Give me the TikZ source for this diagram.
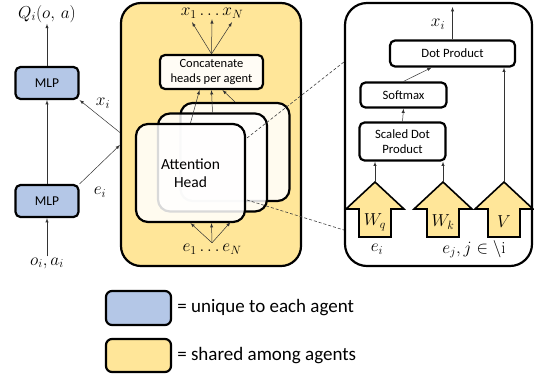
\documentclass[tikz,border=0pt]{standalone}
\usepackage{fontspec}
\setmainfont{Carlito}
\usepackage{amsmath}
\usepackage{xcolor}
\usetikzlibrary{calc,positioning}
\definecolor{uniqueblue}{RGB}{180,199,231}
\definecolor{sharedyellow}{RGB}{255,230,153}

\begin{document}
\begin{tikzpicture}[x=1pt, y=-1pt, >=latex,
        box/.style={rectangle, draw, line width=2.2pt, rounded corners=5pt,
        inner sep=0pt, align=center, font=\fontsize{12.7}{14.5}\selectfont},
        mlp/.style={box, fill=uniqueblue, minimum width=63pt, minimum height=32pt,
        font=\fontsize{13.5}{15}\selectfont},
        head/.style={box, fill=white, fill opacity=0.85, text opacity=1,
        rounded corners=12pt, minimum width=109pt, minimum height=98pt,
        font=\fontsize{15.5}{17.5}\selectfont},
        panel/.style={box, rounded corners=22pt, minimum height=263pt},
        lbl/.style={font=\fontsize{17}{19}\selectfont, inner sep=1pt},
        conn/.style={->, line width=0.5pt, draw=black!80},
        zoomline/.style={line width=0.6pt, dash pattern=on 3pt off 2pt, draw=black!75},
        qkv/.style={draw, line width=1.6pt, fill=sharedyellow, line join=miter},
        legtxt/.style={anchor=west, font=\fontsize{19}{21}\selectfont, inner sep=0pt}]

        \useasboundingbox (0,0) rectangle (534,381);

        % agent network
        \node[mlp] (mlp1) at (47,201) {MLP};
        \node[mlp] (mlp2) at (47,83) {MLP};
        \node[lbl] (q) at (47,14) {$Q_i(o,\,a)$};
        \node[lbl] (oa) at (47,263) {$o_i, a_i$};
        \draw[conn] (oa.north) -- (mlp1.south);
        \draw[conn] (mlp1.north) -- (mlp2.south);
        \draw[conn] (mlp2.north) -- (q.south);

        % shared attention block
        \node[panel, fill=sharedyellow, rounded corners=20pt, minimum width=180pt] (shared) at (211,134.5) {};
        \node[head] (head3) at (235,152) {};
        \node[head] (head2) at (212.5,162.5) {};
        \node[head] (head1) at (190.5,173) {Attention\\Head};
        \node[box, fill=white, fill opacity=0.9, text opacity=1, font=\fontsize{12.5}{15}\selectfont,
            minimum width=103pt, minimum height=34pt] (concat) at (211.5,72) {Concatenate\\heads per agent};
        \node[lbl] (xs) at (212,13) {$x_1 \dots x_N$};
        \node[lbl] (es) at (212,249) {$e_1 \dots e_N$};

        \draw[conn] (head1.north) -- ($(concat.south)+(-12,0)$);
        \draw[conn] (head2.north) -- (concat.south);
        \draw[conn] (head3.north) -- ($(concat.south)+(11,0)$);
        \draw[conn] (concat.north) -- ($(xs.south)+(-20,3)$);
        \draw[conn] (concat.north) -- (xs.south);
        \draw[conn] (concat.north) -- ($(xs.south)+(20,3)$);
        \draw[conn] (es.north) -- (head1.south);
        \draw[conn] (es.north) -- ($(head1.south)+(21,0)$);
        \draw[conn] (es.north) -- ($(head1.south)+(40,-1)$);

        \draw[conn] ($(shared.west)+(0,-2)$) -- (mlp2.south east);
        \draw[conn] (mlp1.north east) -- ($(shared.west)+(0,10.5)$);
        \node[lbl] (xi) at (103,103) {$x_i$};
        \node[lbl] (ei) at (100,192) {$e_i$};

        % attention head detail
        \node[panel, minimum width=187pt] (detail) at (438.5,134.5) {};
        \node[box, minimum width=125pt, minimum height=26pt] (dot) at (452.5,53.5) {Dot Product};
        \node[box, minimum width=86pt, minimum height=25pt] (softmax) at (403.5,95) {Softmax};
        \node[box, minimum width=86pt, minimum height=38pt] (sdp) at (402.5,141.5) {Scaled Dot\\Product};

        \foreach \cx/\lab/\nm in {375/W_q/wq, 443/W_k/wk, 504/V/wv} {
            \draw[qkv] (\cx-29,209) -- (\cx,182) -- (\cx+29,209) -- (\cx+16,209)
                -- (\cx+16,237) -- (\cx-16,237) -- (\cx-16,209) -- cycle;
            \node[lbl] (\nm) at (\cx,222) {$\lab$};
            \coordinate (\nm-tip) at (\cx,182);
        }
        \draw[conn] (wq-tip) -- (wq-tip |- sdp.south);
        \draw[conn] (wk-tip) -- (wk-tip |- sdp.south);
        \draw[conn] (wv-tip) -- (wv-tip |- dot.south);
        \draw[conn] (sdp.north) -- (softmax.south);
        \draw[conn] (softmax.north) -- ($(dot.south)+(-21,0)$);
        \coordinate (out) at (452.5,7);
        \draw[conn] (dot.north) -- (out);
        \node[lbl] (xiout) at (438,24) {$x_i$};
        \node[lbl] (eiq) at (377,249) {$e_i$};
        \node[lbl] (ejk) at (474,249) {$e_j, j \in \backslash\text{\fontfamily{lmr}\selectfont i}$};

        % zoom lines
        \coordinate (z1) at (247,138);
        \coordinate (z2) at (247,200);
        \draw[zoomline] (z1) -- (detail.west |- 0,62);
        \draw[zoomline] (z2) -- (detail.west |- 0,230);

        % legend
        \node[box, fill=uniqueblue, rounded corners=6pt, minimum width=65pt, minimum height=34pt] (leg1) at (138.5,308) {};
        \node[box, fill=sharedyellow, rounded corners=6pt, minimum width=65pt, minimum height=33pt] (leg2) at (138.5,355.5) {};
        \node[legtxt] (leg1txt) at ($(leg1.east)+(5,0)$) {= unique to each agent};
        \node[legtxt] (leg2txt) at ($(leg2.east)+(5,0)$) {= shared among agents};

    \end{tikzpicture}
\end{document}
